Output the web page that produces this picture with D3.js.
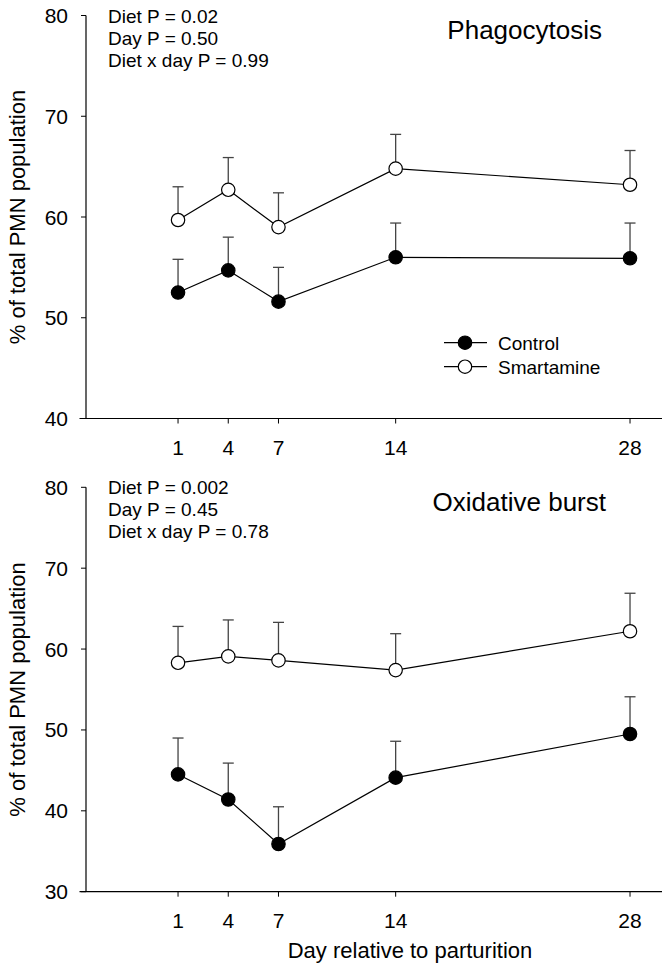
<!DOCTYPE html>
<html>
<head>
<meta charset="utf-8">
<style>
  body { margin: 0; background: #fff; }
  svg { font-family: "Liberation Sans", Arial, sans-serif; }
</style>
</head>
<body>
<svg width="662" height="972"></svg>
<script src="https://d3js.org/d3.v7.min.js"></script>
<script>

// days sampled
var days = [1, 4, 7, 14, 28];

// Phagocytosis panel
var phagoControl = [52.5, 54.7, 51.6, 56.0, 55.9];
var phagoControlErr = [3.3, 3.3, 3.4, 3.4, 3.5];
var phagoSmart = [59.7, 62.7, 59.0, 64.8, 63.2];
var phagoSmartErr = [3.3, 3.2, 3.4, 3.4, 3.4];
var phagoStats = ["Diet P = 0.02", "Day P = 0.50", "Diet x day P = 0.99"];

// Oxidative burst panel
var oxControl = [44.5, 41.4, 35.9, 44.1, 49.5];
var oxControlErr = [4.5, 4.5, 4.6, 4.5, 4.6];
var oxSmart = [58.3, 59.1, 58.6, 57.4, 62.2];
var oxSmartErr = [4.5, 4.5, 4.7, 4.5, 4.7];
var oxStats = ["Diet P = 0.002", "Day P = 0.45", "Diet x day P = 0.78"];

var yTicksTop = [40, 50, 60, 70, 80];
var yTicksBottom = [30, 40, 50, 60, 70, 80];

var svg = d3.select("svg");

var x = d3.scaleLinear()
    .domain([-5, 30])
    .range([77.6, 663.5]);

function drawPanel(opt) {
  var g = svg.append("g");
  var y = d3.scaleLinear().domain(opt.ydomain).range([opt.bottom, opt.top]);

  // x axis
  g.append("line")
      .attr("x1", 79.5).attr("x2", 662)
      .attr("y1", opt.bottom).attr("y2", opt.bottom)
      .attr("stroke", "#000").attr("stroke-width", 1.2);
  g.selectAll(".xt")
    .data(days)
    .enter().append("line")
      .attr("x1", function(d) { return x(d); })
      .attr("x2", function(d) { return x(d); })
      .attr("y1", opt.bottom).attr("y2", opt.bottom + 5)
      .attr("stroke", "#000");
  g.selectAll(".xl")
    .data(days)
    .enter().append("text")
      .attr("x", function(d) { return x(d); })
      .attr("y", opt.bottom + 36)
      .attr("text-anchor", "middle")
      .attr("font-size", 21)
      .text(function(d) { return d; });

  // y axis
  var ax = 86;
  g.append("line")
      .attr("x1", ax).attr("x2", ax)
      .attr("y1", opt.top).attr("y2", opt.bottom)
      .attr("stroke", "#000").attr("stroke-width", 1.2);
  g.selectAll(".yt")
    .data(opt.yticks)
    .enter().append("line")
      .attr("x1", ax - 5).attr("x2", ax)
      .attr("y1", function(d) { return y(d); })
      .attr("y2", function(d) { return y(d); })
      .attr("stroke", "#000");
  g.selectAll(".yl")
    .data(opt.yticks)
    .enter().append("text")
      .attr("x", ax - 18)
      .attr("y", function(d) { return y(d) + 7.5; })
      .attr("text-anchor", "end")
      .attr("font-size", 21)
      .text(function(d) { return d; });

  g.append("text")
      .attr("transform", "translate(25," + ((opt.top + opt.bottom) / 2) + ") rotate(-90)")
      .attr("text-anchor", "middle")
      .attr("font-size", 22)
      .text("% of total PMN population");

  // title + stats
  g.append("text")
      .attr("x", opt.titleX)
      .attr("y", opt.top + 23.5)
      .attr("text-anchor", "end")
      .attr("font-size", 26)
      .text(opt.title);

  g.selectAll(".st")
    .data(opt.stats)
    .enter().append("text")
      .attr("x", 108)
      .attr("y", function(d, i) { return opt.top + 7 + i * 22; })
      .attr("font-size", 19)
      .text(function(d) { return d; });

  var line = d3.line()
      .x(function(d, i) { return x(days[i]); })
      .y(function(d) { return y(d); });

  [{v: opt.smart, e: opt.smartErr, fill: "#fff"},
   {v: opt.control, e: opt.controlErr, fill: "#000"}].forEach(function(s) {
    // error bars (upper only)
    var eb = g.append("g").attr("stroke", "#444").attr("stroke-width", 1.3);
    eb.selectAll("line.v")
      .data(s.v)
      .enter().append("line")
        .attr("x1", function(d, i) { return x(days[i]); })
        .attr("x2", function(d, i) { return x(days[i]); })
        .attr("y1", function(d) { return y(d); })
        .attr("y2", function(d, i) { return y(d + s.e[i]); });
    eb.selectAll("line.c")
      .data(s.v)
      .enter().append("line")
        .attr("x1", function(d, i) { return x(days[i]) - 5.5; })
        .attr("x2", function(d, i) { return x(days[i]) + 5.5; })
        .attr("y1", function(d, i) { return y(d + s.e[i]); })
        .attr("y2", function(d, i) { return y(d + s.e[i]); });

    g.append("path")
        .datum(s.v)
        .attr("fill", "none")
        .attr("stroke", "#000")
        .attr("stroke-width", 1.2)
        .attr("d", line);

    g.selectAll(null)
      .data(s.v)
      .enter().append("circle")
        .attr("cx", function(d, i) { return x(days[i]); })
        .attr("cy", function(d) { return y(d); })
        .attr("r", 6.7)
        .attr("fill", s.fill)
        .attr("stroke", "#000")
        .attr("stroke-width", 1.2);
  });

  return g;
}

drawPanel({
  top: 15.5, bottom: 418.5, ydomain: [40, 80], yticks: yTicksTop,
  control: phagoControl, controlErr: phagoControlErr,
  smart: phagoSmart, smartErr: phagoSmartErr,
  stats: phagoStats, title: "Phagocytosis", titleX: 602
});

drawPanel({
  top: 487.3, bottom: 891.7, ydomain: [30, 80], yticks: yTicksBottom,
  control: oxControl, controlErr: oxControlErr,
  smart: oxSmart, smartErr: oxSmartErr,
  stats: oxStats, title: "Oxidative burst", titleX: 606
});

// legend
var legend = svg.append("g");
var legendItems = ["Control", "Smartamine"];
var legendFill = ["#000", "#fff"];
legendItems.forEach(function(name, i) {
  var ly = 342.7 + i * 24;
  legend.append("line")
      .attr("x1", 444).attr("x2", 487)
      .attr("y1", ly).attr("y2", ly)
      .attr("stroke", "#000").attr("stroke-width", 1.2);
  legend.append("circle")
      .attr("cx", 465).attr("cy", ly).attr("r", 6.7)
      .attr("fill", legendFill[i])
      .attr("stroke", "#000").attr("stroke-width", 1.2);
  legend.append("text")
      .attr("x", 498).attr("y", ly + 7)
      .attr("font-size", 19)
      .text(name);
});

// x axis title
svg.append("text")
    .attr("x", 410).attr("y", 958)
    .attr("text-anchor", "middle")
    .attr("font-size", 22)
    .text("Day relative to parturition");

</script>
</body>
</html>
